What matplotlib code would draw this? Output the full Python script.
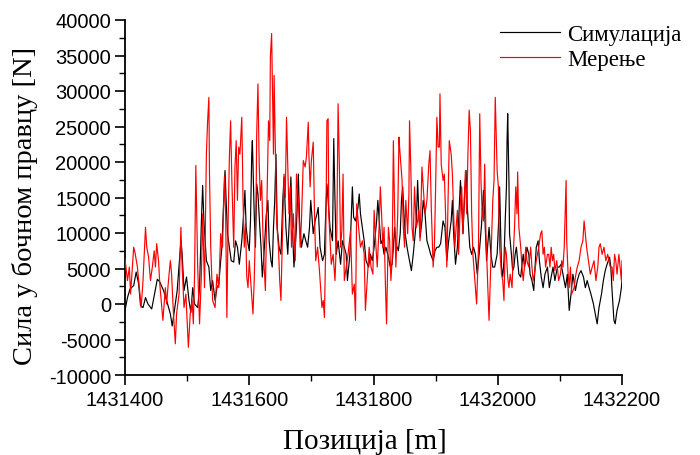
import matplotlib
matplotlib.use("Agg")
import matplotlib.pyplot as plt
from matplotlib.ticker import MultipleLocator, FormatStrFormatter
import numpy as np

plt.rcParams["axes.unicode_minus"] = False

# ---------------- data (position in m, force in N) ----------------
sim_pos = [
    1431400, 1431404, 1431408, 1431414, 1431418, 1431422, 1431425, 1431429, 1431433, 1431437,
    1431443, 1431448, 1431452, 1431456, 1431462, 1431467, 1431473, 1431476, 1431481, 1431484,
    1431488, 1431490, 1431492, 1431495, 1431499, 1431503, 1431506, 1431509, 1431512, 1431517,
    1431520, 1431523, 1431525, 1431527, 1431531, 1431535, 1431538, 1431541, 1431545, 1431548,
    1431551, 1431554, 1431556, 1431558, 1431561, 1431563, 1431565, 1431568, 1431571, 1431575,
    1431578, 1431581, 1431584, 1431588, 1431591, 1431593, 1431595, 1431598, 1431600,
    1431602, 1431604, 1431605, 1431608, 1431610, 1431612, 1431614, 1431617, 1431619, 1431621,
    1431623, 1431625, 1431627, 1431630, 1431632, 1431635, 1431637, 1431639, 1431641, 1431643,
    1431645, 1431648, 1431651, 1431654, 1431656, 1431659, 1431662, 1431665, 1431667, 1431669,
    1431672, 1431676, 1431679, 1431681, 1431684, 1431688, 1431691, 1431694, 1431697, 1431699,
    1431703, 1431706, 1431709, 1431711, 1431714, 1431718, 1431721, 1431723, 1431725, 1431727,
    1431730, 1431734, 1431736, 1431738, 1431740, 1431743, 1431747, 1431750, 1431753, 1431756,
    1431758, 1431762, 1431764, 1431766, 1431768, 1431771, 1431775, 1431777, 1431779, 1431782,
    1431785, 1431788, 1431792, 1431795, 1431798, 1431801,
    1431805, 1431807, 1431810, 1431812, 1431814, 1431817, 1431820, 1431824, 1431827, 1431830,
    1431832, 1431834, 1431836, 1431840, 1431843, 1431845, 1431847, 1431849, 1431851, 1431854,
    1431856, 1431858, 1431861, 1431864, 1431866, 1431869, 1431871, 1431873, 1431875, 1431878,
    1431880, 1431883, 1431886, 1431889, 1431892, 1431896, 1431899, 1431902, 1431905, 1431908,
    1431912, 1431915, 1431918, 1431921, 1431925, 1431927, 1431929, 1431932, 1431935, 1431937,
    1431940, 1431942, 1431944, 1431947, 1431949, 1431951, 1431955, 1431958, 1431961, 1431964,
    1431967, 1431971, 1431974, 1431977, 1431979, 1431982, 1431986, 1431989, 1431992, 1431995,
    1431999, 1432002, 1432003,
    1432006, 1432008, 1432010, 1432012, 1432014, 1432015, 1432016, 1432018, 1432019, 1432022,
    1432024, 1432026, 1432028, 1432030, 1432032, 1432034, 1432037, 1432039, 1432041, 1432043,
    1432045, 1432047, 1432050, 1432052, 1432055, 1432058, 1432060, 1432062, 1432065, 1432067,
    1432070, 1432073, 1432076, 1432080, 1432083, 1432086, 1432089, 1432092, 1432096, 1432099,
    1432102, 1432105, 1432109, 1432112, 1432115, 1432118, 1432121, 1432125, 1432128, 1432131,
    1432134, 1432138, 1432141, 1432144, 1432147, 1432150, 1432154, 1432157, 1432160, 1432163,
    1432167, 1432170, 1432173, 1432176, 1432180, 1432182, 1432184, 1432187, 1432189, 1432192,
    1432196, 1432199, 1432200,
]
sim_force = [
    -900, 900, 2100, 2600, 4500, 2800, -200, -500, 900, 0,
    -700, 1600, 3500, 3100, 1900, 500, -1400, -3100, 0, 1900,
    6600, 8900, 7000, 1900, 3800, 500, -1200, 2300, 0, -500,
    2300, 11700, 16700, 11700, 6100, 5200, 1900, 3300, 500, 2300,
    2800, 6100, 8000, 12700, 18800, 14100, 9900, 8000, 6100, 5900,
    8900, 8000, 5600, 8900, 12700, 16000, 10800, 8500, 7500,
    11700, 21100, 23000, 12700, 8000, 16900, 15500, 10800, 8000, 3800,
    6100, 8900, 12200, 14600, 8900, 6100, 5200, 10800, 14600, 21100,
    10800, 8000, 7000, 14600, 17900, 10800, 7000, 12700, 17900, 11700,
    5200, 10800, 18300, 11700, 8000, 9900, 8900, 8000, 10800, 14600,
    9900, 11700, 12700, 13600, 8000, 6100, 7000, 12700, 16900, 14600,
    10800, 8900, 23300, 14600, 7000, 8900, 5600, 8900, 8000, 7000,
    3300, 7000, 11700, 16500, 12200, 11700, 13600, 15500, 12700, 10800,
    8900, 6100, 5200, 7000, 6100, 8000,
    11700, 14600, 10800, 8500, 8900, 7000, 8000, 6600, 5200, 5600,
    8000, 10800, 8500, 7500, 9900, 14600, 16500, 12700, 9900, 8000,
    7000, 6100, 4700, 7000, 8900, 11700, 17400, 12700, 9400, 11700,
    14600, 12700, 8900, 8000, 7000, 6100, 7500, 8000, 8000, 8500,
    11700, 10800, 6100, 8900, 11700, 14600, 9900, 5600, 8000, 11700,
    17400, 13600, 9900, 16000, 18800, 13600, 8000, 7000, 8000, 7000,
    4200, 8000, 11300, 16000, 12700, 6100, 10800, 7000, 5200, 5200,
    7000, 12700, 16500,
    5200, 3800, 6100, 11700, 16500, 23000, 26800, 17400, 9900, 7000,
    4700, 5200, 7000, 8000, 6100, 4200, 3800, 5600, 7000, 5200,
    6100, 8000, 7000, 4200, 3300, 1900, 5200, 8000, 8900, 6100,
    3800, 2300, 4200, 5200, 2300, 3800, 5200, 3300, 5200, 5200,
    5600, 4200, 2300, 4200, -900, 1400, 4200, 1900, 3300, 4200,
    4700, 3800, 2300, 3300, 2300, 1400, 0, -1400, -2800, -500,
    1400, 3300, 4700, 5600, 6600, 5200, 1900, -2300, -2800, -900,
    500, 2300, 3300,
]

meas_pos = [
    1431400, 1431404, 1431407, 1431409, 1431414, 1431416, 1431420, 1431423, 1431426, 1431429,
    1431433, 1431435, 1431438, 1431441, 1431444, 1431447, 1431449, 1431451, 1431454, 1431456,
    1431461, 1431465, 1431467, 1431470, 1431473, 1431475, 1431478, 1431481, 1431483, 1431487,
    1431490, 1431492, 1431495, 1431498, 1431502, 1431505, 1431508, 1431510, 1431512, 1431514,
    1431517, 1431520, 1431523, 1431525, 1431528, 1431531, 1431533, 1431535, 1431536, 1431538,
    1431541, 1431545, 1431548, 1431551, 1431554, 1431557, 1431560, 1431562, 1431564, 1431566,
    1431568, 1431570, 1431572, 1431575, 1431577, 1431579, 1431581, 1431583, 1431585, 1431588,
    1431590, 1431592, 1431594, 1431596, 1431598, 1431600,
    1431603, 1431606, 1431608, 1431611, 1431612, 1431614, 1431616, 1431618, 1431620, 1431622,
    1431624, 1431626, 1431628, 1431631, 1431633, 1431634, 1431636, 1431638, 1431639, 1431640,
    1431642, 1431644, 1431647, 1431649, 1431651, 1431653, 1431656, 1431658, 1431660, 1431662,
    1431664, 1431666, 1431668, 1431671, 1431674, 1431676, 1431679, 1431682, 1431684, 1431687,
    1431690, 1431692, 1431695, 1431696, 1431698, 1431700, 1431703, 1431705, 1431707, 1431710,
    1431713, 1431717, 1431719, 1431721, 1431723, 1431725, 1431727, 1431728, 1431732, 1431735,
    1431738, 1431741, 1431743, 1431745, 1431747, 1431749, 1431751, 1431753, 1431756, 1431759,
    1431763, 1431766, 1431769, 1431771, 1431773, 1431776, 1431779, 1431782, 1431785, 1431787,
    1431791, 1431793, 1431796, 1431799, 1431801,
    1431804, 1431806, 1431809, 1431811, 1431813, 1431815, 1431817, 1431819, 1431821, 1431824,
    1431826, 1431828, 1431830, 1431832, 1431834, 1431836, 1431839, 1431841, 1431842, 1431844,
    1431846, 1431848, 1431850, 1431852, 1431855, 1431857, 1431858, 1431860, 1431862, 1431864,
    1431866, 1431869, 1431871, 1431873, 1431875, 1431878, 1431880, 1431883, 1431886, 1431889,
    1431891, 1431893, 1431896, 1431898, 1431900, 1431902, 1431904, 1431906, 1431907, 1431909,
    1431912, 1431914, 1431916, 1431918, 1431920, 1431922, 1431925, 1431927, 1431929, 1431931,
    1431933, 1431935, 1431937, 1431940, 1431942, 1431944, 1431946, 1431948, 1431950, 1431952,
    1431954, 1431956, 1431958, 1431960, 1431962, 1431964, 1431966, 1431969, 1431971, 1431973,
    1431975, 1431977, 1431979, 1431981, 1431984, 1431986, 1431988, 1431990, 1431992, 1431994,
    1431996, 1431999, 1432001, 1432003,
    1432006, 1432008, 1432010, 1432012, 1432014, 1432016, 1432018, 1432020, 1432023, 1432025,
    1432027, 1432029, 1432031, 1432032, 1432034, 1432037, 1432039, 1432041, 1432043, 1432045,
    1432047, 1432050, 1432053, 1432055, 1432057, 1432059, 1432062, 1432066, 1432069, 1432071,
    1432073, 1432075, 1432077, 1432080, 1432082, 1432084, 1432086, 1432088, 1432090, 1432092,
    1432095, 1432098, 1432101, 1432103, 1432105, 1432107, 1432110, 1432111, 1432113, 1432115,
    1432117, 1432119, 1432123, 1432125, 1432128, 1432131, 1432134, 1432137, 1432139, 1432141,
    1432143, 1432146, 1432149, 1432152, 1432155, 1432158, 1432161, 1432163, 1432165, 1432168,
    1432171, 1432174, 1432177, 1432181, 1432184, 1432186, 1432188, 1432190, 1432192, 1432195,
    1432197, 1432199, 1432200,
]
meas_force = [
    6300, 3300, 5200, 1400, 8000, 7300, 5200, 2300, -500, 3300,
    10800, 8000, 6600, 3300, 5200, 7500, 5200, 8500, 6100, 2800,
    -2300, 2300, 0, 3300, 6100, 4200, -1400, -5600, -1400, 1400,
    10800, 5200, -500, 1400, -6100, -1400, 500, -2800, 4200, 19500,
    5200, -2800, 4200, 12700, 2300, 21100, 25800, 29100, 18300, 8000,
    500, -500, 4200, 2300, 9900, 8000, 17900, 12700, -1900, 11700,
    20700, 25800, 17400, 8000, 19300, 23000, 14600, 22100, 21100, 26300,
    14600, 8000, 11300, 3800, 2300, 6100,
    2300, -1400, 3300, 14600, 24000, 31000, 19700, 14600, 17400, 9900,
    5200, 1900, 12200, 25800, 23000, 34800, 38100, 26800, 21100, 32200,
    22100, 11700, 8000, 3300, 500, 8000, 18300, 15000, 26300, 19700,
    12700, 16500, 8000, 12700, 6100, 18300, 14600, 8000, 11700, 20200,
    19300, 20700, 25600, 21100, 16500, 20200, 22800, 12700, 6100, 8000,
    4700, -500, 500, -1900, 8000, 25800, 26100, 12700, 5600, 7000,
    3300, 10300, 28200, 19700, 8000, 10300, 18300, 3300, 5200, 7000,
    10300, 1400, 2800, -2300, 14100, 10800, 8000, 8900, 7000, -900,
    5200, 8000, 5200, 4200, 13200,
    8000, 5200, 10800, 16500, 12700, 8000, 10800, 3300, -2800, 10800,
    8900, 3300, 6100, 23000, 12700, 5200, 12700, 23500, 22100, 19700,
    17400, 10800, 8000, 14600, 9900, 15500, 25800, 19300, 10800, 8900,
    16500, 10800, 11700, 13200, 8900, 19300, 16500, 12700, 14600, 19700,
    21600, 13600, 5200, 8000, 16500, 26300, 22100, 22100, 29600, 19700,
    17400, 18300, 12700, 5200, 14600, 23000, 21100, 18300, 12700, 8000,
    10800, 13200, 7000, 14600, 16500, 9900, 14600, 18800, 12700, 21100,
    27300, 24400, 12700, 7000, 4700, 2300, 0, 8000, 26800, 17400,
    12700, 11700, 19700, 9900, 2300, -2300, 3300, 8900, 14600, 17400,
    29100, 18800, 16500, 8000,
    4200, 3300, 500, 8000, 7000, 3800, 2300, 4200, 2300, 7000,
    10800, 16500, 12700, 18600, 10800, 8000, 5200, 3300, 5200, 8000,
    6100, 5200, 8000, 5200, 3300, 4200, 6100, 8000, 9900, 10300,
    7000, 8000, 5200, 7000, 7000, 5200, 8000, 6100, 7000, 4700,
    6100, 3300, 4200, 6100, 5200, 8000, 17400, 8900, 4700, 2300,
    5200, 1400, 2300, 3800, 5200, 6100, 8000, 8900, 11700, 9900,
    8000, 6100, 4200, 5200, 6100, 3300, 5200, 8000, 8500, 7000,
    8000, 6100, 7000, 5200, 5200, 3300, 7000, 6100, 4200, 7000,
    5200, 3300, 6100,
]

series_labels = ["Симулација", "Мерење"]
x_label = "Позиција [m]"
y_label = "Сила у бочном правцу [N]"
x_limits = (1431400, 1432200)
y_limits = (-10000, 40000)

# ---------------- figure ----------------
fig = plt.figure(figsize=(7.0, 4.56), dpi=100)
ax = fig.add_axes([125 / 700, 80 / 456, 497 / 700, 355 / 456])

ax.plot(sim_pos, sim_force, color="black", lw=0.85, label=series_labels[0], zorder=2)
ax.plot(meas_pos, meas_force, color="#ff0000", lw=0.85, label=series_labels[1], zorder=3)

ax.set_xlim(*x_limits)
ax.set_ylim(*y_limits)

for s in ("top", "right"):
    ax.spines[s].set_visible(False)
for s in ("left", "bottom"):
    ax.spines[s].set_linewidth(1.3)

ax.xaxis.set_major_locator(MultipleLocator(200))
ax.xaxis.set_minor_locator(MultipleLocator(100))
ax.yaxis.set_major_locator(MultipleLocator(5000))
ax.yaxis.set_minor_locator(MultipleLocator(2500))
ax.xaxis.set_major_formatter(FormatStrFormatter("%d"))
ax.yaxis.set_major_formatter(FormatStrFormatter("%d"))
ax.tick_params(which="major", direction="out", length=7, width=1.2, pad=3,
               labelsize=14.5)
ax.tick_params(which="minor", direction="out", length=4, width=1.0)
ax.tick_params(axis="x", which="major", pad=4)
for lab in ax.get_xticklabels() + ax.get_yticklabels():
    lab.set_fontfamily("Liberation Sans")

ax.set_xlabel(x_label, family="Liberation Serif", fontsize=21)
ax.set_ylabel(y_label, family="Liberation Serif", fontsize=20.5)
ax.xaxis.set_label_coords(0.483, -0.148)
ax.yaxis.set_label_coords(-0.175, 0.479)

leg = ax.legend(loc="upper left", bbox_to_anchor=(500 / 700, 1 - 25 / 456),
                bbox_transform=fig.transFigure, frameon=False,
                prop={"family": "Liberation Serif", "size": 16.5},
                handlelength=2.6, handletextpad=0.35, labelspacing=0.15,
                borderpad=0.0, borderaxespad=0.0)

fig.savefig("out.png", dpi=100)
